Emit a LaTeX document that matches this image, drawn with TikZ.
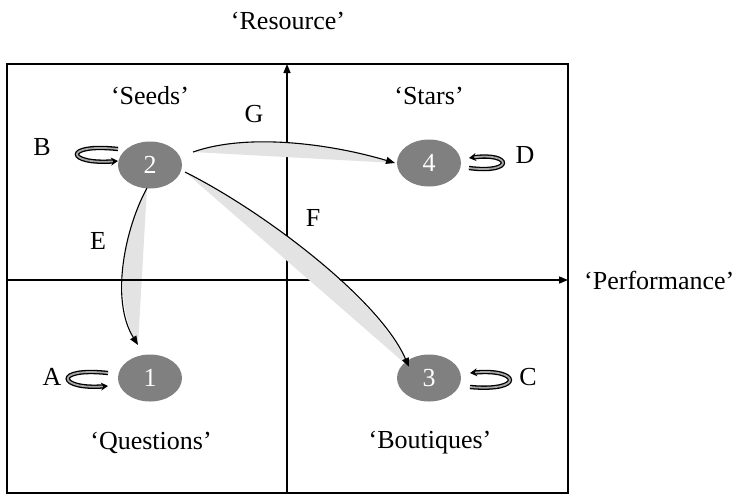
\documentclass[tikz,border=0pt]{standalone}
\usepackage{fontspec}
\setmainfont{Liberation Serif}
\usetikzlibrary{arrows.meta,shapes.geometric}
\begin{document}
\begin{tikzpicture}[x=1pt,y=-1pt,
  lbl/.style={font=\fontsize{26}{30}\selectfont, inner sep=0pt},
  st/.style={ellipse, fill=black!50, minimum width=64pt, minimum height=47pt, inner sep=0pt, text=white, font=\fontsize{26}{30}\selectfont},
  axis/.style={line width=1.5pt, -{Triangle[length=9pt,width=7pt]}},
  trans/.style={line width=1.1pt, -{Triangle[length=9pt,width=7pt]}},
  shade/.style={fill=black!11},
  loopar/.style={line width=1.3pt, double=black!35, double distance=1.8pt, -{Stealth[length=7pt,width=8pt]}}]
\useasboundingbox (0,0) rectangle (746,496);
% nodes
\node[st] (n2) at (150,165) {2};
\node[st] (n4) at (429,163) {4};
\node[st] (n1) at (150,378) {1};
\node[st] (n3) at (429,378) {3};
% connector end points
\coordinate (e0) at ([shift={(-3,23)}]n2.center);
\coordinate (e1) at ([shift={(-12,-33)}]n1.center);
\coordinate (g0) at ([shift={(43,-13)}]n2.center);
\coordinate (g1) at ([shift={(-34,0)}]n4.center);
\coordinate (f0) at ([shift={(35,7)}]n2.center);
\coordinate (f1) at ([shift={(-20,-11)}]n3.center);
% E connector (below axes)
\fill[shade] (e0) .. controls (125,228) and (110,300) .. (e1) -- cycle;
\draw[trans] (e0) .. controls (125,228) and (110,300) .. (e1);
% frame and axes
\coordinate (xa0) at (7,280);
\coordinate (xa1) at (568,280);
\coordinate (ya0) at (287,493);
\coordinate (ya1) at (287,64);
\draw[axis] (ya0) -- (ya1);
\draw[axis] (xa0) -- (xa1);
% G and F connectors
\fill[shade] (g0) .. controls (250,132) and (335,145) .. (g1) -- cycle;
\draw[trans] (g0) .. controls (250,132) and (335,145) .. (g1);
\fill[shade] (f0) .. controls (265,212) and (380,300) .. (f1) -- cycle;
\draw[trans] (f0) .. controls (265,212) and (380,300) .. (f1);
\draw[line width=2pt] (7,64) rectangle (568,493);
% self loops
\coordinate (b0) at ([shift={(-32,-16)}]n2.center);
\coordinate (b1) at ([shift={(-32,-4)}]n2.center);
\draw[loopar] (b0) .. controls (62,143) and (66,165) .. (b1);
\coordinate (a0) at ([shift={(-42,-5)}]n1.center);
\coordinate (a1) at ([shift={(-42,8)}]n1.center);
\draw[loopar] (a0) .. controls (52,367) and (58,390) .. (a1);
\coordinate (c0) at ([shift={(41,9)}]n3.center);
\coordinate (c1) at ([shift={(41,-5)}]n3.center);
\draw[loopar] (c0) .. controls (525,392) and (520,368) .. (c1);
\coordinate (d0) at ([shift={(40,5)}]n4.center);
\coordinate (d1) at ([shift={(40,-5)}]n4.center);
\draw[loopar] (d0) .. controls (515,174) and (512,152) .. (d1);
% labels
\node[lbl] (tres) at (288,21) {‘Resource’};
\node[lbl, anchor=west] (tperf) at (584,280) {‘Performance’};
\node[lbl] (tseeds) at (150,96) {‘Seeds’};
\node[lbl] (tstars) at (429,96) {‘Stars’};
\node[lbl] (tq) at (151,443) {‘Questions’};
\node[lbl] (tb) at (430,443) {‘Boutiques’};
\node[lbl] (lA) at (52,377) {A};
\node[lbl] (lB) at (42,147) {B};
\node[lbl] (lC) at (528,377) {C};
\node[lbl] (lD) at (525,155) {D};
\node[lbl] (lE) at (98,241) {E};
\node[lbl] (lF) at (313,218) {F};
\node[lbl] (lG) at (254,114) {G};
\end{tikzpicture}
\end{document}
